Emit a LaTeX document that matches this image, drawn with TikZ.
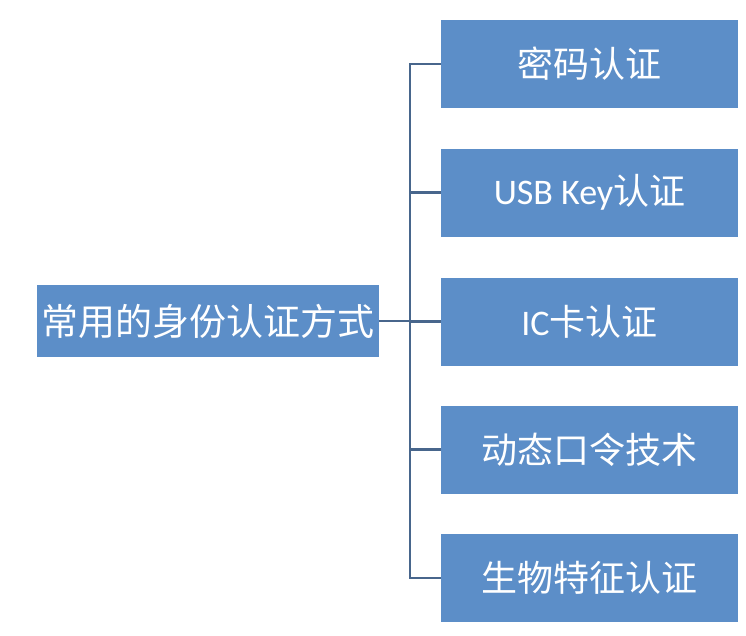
\documentclass[tikz,border=0pt]{standalone}
\usepackage{fontspec}
\newfontfamily\cjk{Noto Sans CJK SC}
\newfontfamily\lat{Carlito}
\definecolor{boxblue}{RGB}{92,142,200}
\definecolor{linecol}{RGB}{72,102,140}
\begin{document}
\begin{tikzpicture}[x=1pt,y=-1pt,
  box/.style={fill=boxblue,draw=none,text=white,inner sep=0pt,font=\fontsize{36}{40}\selectfont\cjk},
  conn/.style={draw=linecol,line width=2.2pt}]
\useasboundingbox (0,0) rectangle (746,635);
\node[box,minimum width=342pt,minimum height=72pt,font=\fontsize{37}{40}\selectfont\cjk] (root) at (208,321) {常用的身份认证方式};
\node[box,minimum width=297pt,minimum height=88pt] (b1) at (589.5,64) {密码认证};
\node[box,minimum width=297pt,minimum height=88pt] (b2) at (589.5,192.5) {{\lat USB Key}认证};
\node[box,minimum width=297pt,minimum height=88pt] (b3) at (589.5,321.5) {{\lat IC}卡认证};
\node[box,minimum width=297pt,minimum height=88pt] (b4) at (589.5,449.5) {动态口令技术};
\node[box,minimum width=297pt,minimum height=88pt] (b5) at (589.5,578) {生物特征认证};
\coordinate (j) at (410,321);
\draw[conn] (root.east) -- (j);
\draw[conn] (b1.west) -- (410,64) -- (410,578) -- (b5.west);
\foreach \b in {b2,b3,b4} \draw[conn] (\b.west) -- (\b.west -| j);
\end{tikzpicture}
\end{document}
